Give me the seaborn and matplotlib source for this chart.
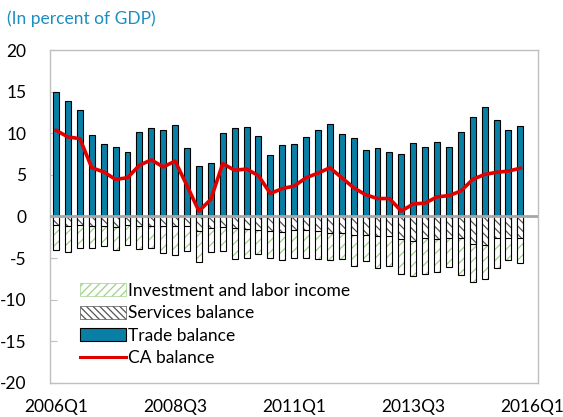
import numpy as np
import pandas as pd
import matplotlib
matplotlib.use("Agg")
import matplotlib.pyplot as plt
import matplotlib.patches as mpatches
import matplotlib.lines as mlines
import seaborn as sns

quarters = [f"{y}Q{q}" for y in range(2006, 2016) for q in range(1, 5)] + ["2016Q1"]
tick_labels = ["2006Q1", "2008Q3", "2011Q1", "2013Q3", "2016Q1"]

trade = [15.0, 13.9, 12.8, 9.75, 8.7, 8.4, 7.7, 10.2, 10.6, 10.4,
         11.0, 8.2, 6.1, 6.4, 10.0, 10.6, 10.8, 9.7, 7.4, 8.55,
         8.7, 9.55, 10.4, 11.1, 9.9, 9.4, 7.95, 8.2, 7.8, 7.55,
         8.8, 8.4, 8.95, 8.4, 10.1, 11.9, 13.2, 11.65, 10.4, 10.9]
services = [-1.05, -1.15, -1.0, -1.1, -1.2, -1.3, -1.0, -1.1, -1.1, -1.2,
            -1.2, -1.1, -1.75, -1.35, -1.3, -1.35, -1.55, -1.65, -1.75, -1.85,
            -1.6, -1.6, -1.7, -1.95, -1.95, -2.25, -2.25, -2.35, -2.35, -2.75,
            -2.95, -2.65, -2.75, -2.6, -2.6, -3.35, -3.4, -2.6, -2.6, -2.6]
investment = [-3.0, -3.15, -2.75, -2.7, -2.3, -2.75, -2.4, -2.8, -2.7, -3.2,
              -3.45, -3.05, -3.75, -2.9, -2.9, -3.8, -3.4, -2.9, -3.3, -3.4,
              -3.4, -3.35, -3.45, -3.3, -3.2, -3.7, -3.15, -3.85, -3.6, -4.15,
              -4.2, -4.3, -3.9, -3.45, -4.45, -4.5, -4.15, -3.6, -2.6, -2.95]
ca = [10.35, 9.55, 9.35, 5.85, 5.35, 4.45, 4.65, 6.15, 6.8, 5.95,
      6.65, 3.7, 0.64, 2.05, 6.35, 5.55, 5.7, 4.9, 2.75, 3.35,
      3.65, 4.65, 5.2, 5.85, 4.65, 3.45, 2.6, 2.15, 2.15, 0.64,
      1.5, 1.6, 2.35, 2.5, 3.05, 4.45, 5.05, 5.3, 5.45, 5.8]

n = len(trade)
df = pd.DataFrame({
    "quarter": quarters[:n],
    "pos": np.arange(n),
    "trade": trade,
    "services": services,
    "investment": investment,
    "ca": ca,
})
df["neg_total"] = df["services"] + df["investment"]

plt.rcParams["font.family"] = ["Lato", "DejaVu Sans"]
plt.rcParams["axes.unicode_minus"] = False
plt.rcParams["hatch.linewidth"] = 0.9

fig = plt.figure(figsize=(5.63, 4.17), dpi=100)
ax = fig.add_axes([0.089, 0.082, 0.867, 0.798])

TEAL = "#0A7FA6"
GREEN = "#9FD08A"
W = 0.5

# Trade balance
sns.barplot(data=df, x="quarter", y="trade", order=quarters, ax=ax,
            width=W, facecolor=TEAL, edgecolor="black", linewidth=0.8,
            errorbar=None, zorder=3)
# Investment & labor income (stacked below services): hatch pass then outline
sns.barplot(data=df, x="quarter", y="neg_total", order=quarters, ax=ax,
            width=W, facecolor="white", edgecolor=GREEN, hatch="///",
            linewidth=0, errorbar=None, zorder=3)
sns.barplot(data=df, x="quarter", y="neg_total", order=quarters, ax=ax,
            width=W, facecolor="none", edgecolor="black", linewidth=0.8,
            errorbar=None, zorder=4)
# Services balance
sns.barplot(data=df, x="quarter", y="services", order=quarters, ax=ax,
            width=W, facecolor="white", edgecolor="#555555", hatch="\\\\\\\\",
            linewidth=0, errorbar=None, zorder=5)
sns.barplot(data=df, x="quarter", y="services", order=quarters, ax=ax,
            width=W, facecolor="none", edgecolor="black", linewidth=0.8,
            errorbar=None, zorder=6)

ax.axhline(0, color="#A6A6A6", lw=2.0, zorder=7)

# CA balance
sns.lineplot(data=df, x="pos", y="ca", ax=ax, color="#E00000", lw=2.6,
             zorder=8, legend=False)

ax.set_xlim(-0.5, len(quarters) - 0.5)
ax.set_ylim(-20, 20)
ax.set_yticks(np.arange(-20, 21, 5))
ax.set_xticks([quarters.index(t) for t in tick_labels])
ax.set_xticklabels(tick_labels)
ax.set_xlabel("")
ax.set_ylabel("")
ax.tick_params(axis="x", length=0, pad=12, labelsize=12.5)
ax.tick_params(axis="y", direction="in", length=5, color="#BFBFBF",
               pad=17, labelsize=12.5)
for s in ax.spines.values():
    s.set_color("#BFBFBF")
    s.set_linewidth(1.0)
ax.grid(False)

handles = [
    mpatches.Patch(facecolor="white", edgecolor=GREEN, hatch="////", lw=0.5),
    mpatches.Patch(facecolor="white", edgecolor="#555555", hatch="\\\\\\\\\\", lw=0.5),
    mpatches.Patch(facecolor=TEAL, edgecolor="black", lw=0.8),
    mlines.Line2D([], [], color="#E00000", lw=2.2),
]
labels = ["Investment and labor income", "Services balance", "Trade balance", "CA balance"]
leg = ax.legend(handles, labels, loc="upper left", bbox_to_anchor=(0.048, 0.322),
                frameon=False, fontsize=12.5, handlelength=2.6, handleheight=0.8,
                handletextpad=0.12, labelspacing=0.38, borderaxespad=0)

fig.text(0.013, 0.975, "(In percent of GDP)", color="#1B8EC2", fontsize=12.5,
         ha="left", va="top")

fig.savefig("out.png", dpi=100)
